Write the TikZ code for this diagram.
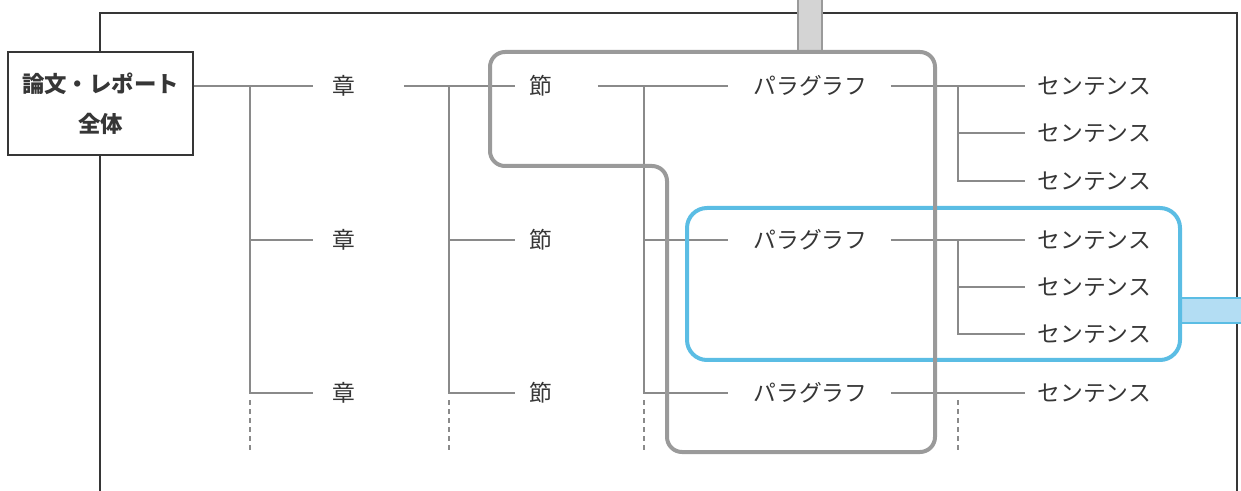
\documentclass[tikz,border=0pt]{standalone}
\usepackage{fontspec}
\setmainfont{Noto Sans CJK JP}
\usetikzlibrary{positioning}
\definecolor{linegray}{HTML}{8A8A8A}
\definecolor{groupgray}{HTML}{9A9A9A}
\definecolor{stubgray}{HTML}{D4D4D4}
\definecolor{skyblue}{HTML}{5BBDE4}
\definecolor{paleblue}{HTML}{B3DDF3}
\definecolor{inkgray}{HTML}{363636}
\begin{document}
\begin{tikzpicture}[x=0.5pt,y=-0.5pt,
    link/.style={draw=linegray,line width=1pt},
    dots/.style={draw=linegray,line width=1pt,dash pattern=on 2.5pt off 2pt},
    item/.style={anchor=west,font=\fontsize{11.4}{13}\selectfont,text=inkgray,inner ysep=2pt},
    shobox/.style={item,inner xsep=9.5pt,text width=26pt,align=left},
    setsubox/.style={item,inner xsep=7pt,text width=27pt,align=left},
    parabox/.style={item,inner xsep=12.5pt,text width=56pt,align=center},
    senbox/.style={item,inner xsep=6pt,text width=60pt,align=left}]
        \useasboundingbox (0,0) rectangle (1241,491);
        \draw[draw=inkgray,line width=0.6pt] (100,495) -- (100,13) -- (1237,13) -- (1237,495);
        \node[draw=inkgray,fill=white,line width=0.6pt,minimum width=92.5pt,minimum height=51.5pt,inner sep=0pt,
              align=center,text=inkgray,font=\bfseries\fontsize{11.2}{20}\selectfont] (root) at (100.5,103.5) {論文・レポート\\全体};

        \node[shobox] (sho1) at (313,86) {章};
        \node[shobox] (sho2) at (313,240) {章};
        \node[shobox] (sho3) at (313,393) {章};
        \node[setsubox] (setsu1) at (515,86) {節};
        \node[setsubox] (setsu2) at (515,240) {節};
        \node[setsubox] (setsu3) at (515,393) {節};
        \node[parabox] (para1) at (728,86) {パラグラフ};
        \node[parabox] (para2) at (728,240) {パラグラフ};
        \node[parabox] (para3) at (728,393) {パラグラフ};
        \node[senbox] (sen1) at (1025,86) {センテンス};
        \node[senbox] (sen2) at (1025,133) {センテンス};
        \node[senbox] (sen3) at (1025,181) {センテンス};
        \node[senbox] (sen4) at (1025,240) {センテンス};
        \node[senbox] (sen5) at (1025,287) {センテンス};
        \node[senbox] (sen6) at (1025,334) {センテンス};
        \node[senbox] (sen7) at (1025,393) {センテンス};

        \coordinate (jroot) at (250,86);
        \coordinate (jsho) at (449,86);
        \coordinate (jsetsu) at (644,86);
        \coordinate (jpara1) at (958,86);
        \coordinate (jpara2) at (958,240);
        \coordinate (droot) at (250,450);
        \coordinate (dsho) at (449,450);
        \coordinate (dsetsu) at (644,450);
        \coordinate (dpara) at (958,450);

        \draw[link] (root.east |- sho1.west) -- (sho1.west);
        \draw[link] (jroot) |- (sho2.west);
        \draw[link] (jroot) |- (sho3.west);
        \draw[dots] (droot |- 0,400) -- (droot);
        \draw[link] (sho1.east) -- (setsu1.west);
        \draw[link] (jsho) |- (setsu2.west);
        \draw[link] (jsho) |- (setsu3.west);
        \draw[dots] (dsho |- 0,400) -- (dsho);
        \draw[link] (setsu1.east) -- (para1.west);
        \draw[link] (jsetsu) |- (para2.west);
        \draw[link] (jsetsu) |- (para3.west);
        \draw[dots] (dsetsu |- 0,400) -- (dsetsu);
        \draw[link] (para1.east) -- (sen1.west);
        \draw[link] (jpara1) |- (sen2.west);
        \draw[link] (jpara1) |- (sen3.west);
        \draw[link] (para2.east) -- (sen4.west);
        \draw[link] (jpara2) |- (sen5.west);
        \draw[link] (jpara2) |- (sen6.west);
        \draw[link] (para3.east) -- (sen7.west);
        \draw[dots] (dpara |- 0,400) -- (dpara);

        \draw[draw=skyblue,fill=paleblue,line width=0.8pt] (1180,298) rectangle (1243,323);
        \draw[draw=skyblue,line width=2pt,rounded corners=10pt] (687,208) rectangle (1180,360);
        \draw[draw=groupgray,fill=stubgray,line width=1pt] (798,-4) rectangle (822,52);
        \draw[draw=groupgray,line width=2pt,rounded corners=7.5pt]
            (490,52) -- (935,52) -- (935,452) -- (667,452) -- (667,166) -- (490,166) -- cycle;
\end{tikzpicture}
\end{document}
